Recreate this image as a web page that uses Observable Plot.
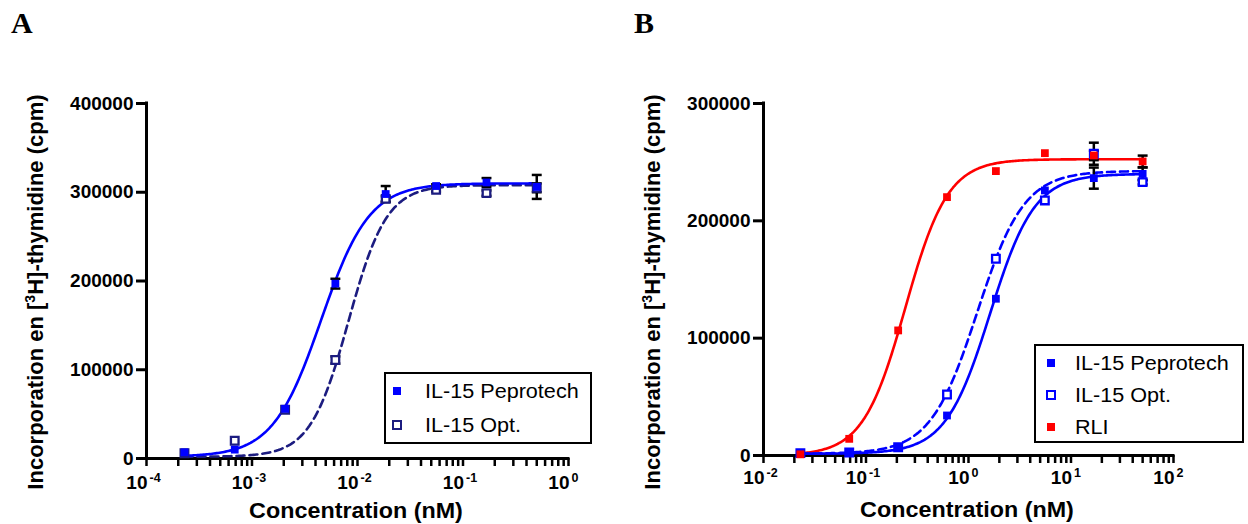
<!DOCTYPE html>
<html><head><meta charset="utf-8">
<script src="https://cdn.jsdelivr.net/npm/d3@7"></script>
<script src="https://cdn.jsdelivr.net/npm/@observablehq/plot@0.6"></script>
<style>
html,body{margin:0;padding:0;background:#fff;}
#root{position:relative;width:1248px;height:524px;overflow:hidden;font-family:"Liberation Sans",Arial,sans-serif;color:#000;}
.panel{position:absolute;top:0;}
.plabel{position:absolute;font-family:"Liberation Serif","Times New Roman",serif;font-weight:bold;font-size:30px;line-height:1;}
.ytitle{position:absolute;font-weight:bold;font-size:22px;line-height:1;white-space:nowrap;transform:translate(-50%,-50%) rotate(-90deg);}
.xtitle{position:absolute;font-weight:bold;font-size:22px;line-height:1;white-space:nowrap;transform:translate(-50%,-50%) scaleX(1.06);}
.ytitle sup{font-size:14px;vertical-align:0;position:relative;top:-8px;}
.legend{position:absolute;border:2px solid #000;background:#fff;box-sizing:border-box;}
.row{position:absolute;left:0;height:20px;font-size:20px;line-height:20px;white-space:nowrap;}
.mk{position:absolute;box-sizing:border-box;}
.lt{position:absolute;top:0;transform:scaleX(1.08);transform-origin:0 50%;}
</style>
</head><body>
<div id="root"></div>
<script>
// ---------- Data ----------
// Panel A
const concA = [0.000229, 0.000686, 0.00206, 0.00617, 0.0185, 0.0556, 0.167, 0.5];
const pepA = [7000, 10000, 56000, 197000, 298000, 307000, 311000, 306000];
const pepAErr = [0, 0, 0, 5500, 9000, 2000, 5000, 13500];
const optA = [6000, 20000, 55000, 111000, 292500, 302700, 299000, 305000];
const optAErr = [0, 0, 0, 4000, 3000, 2000, 3000, 5000];
const yTicksA = [0, 100000, 200000, 300000, 400000];
const xExpA = [-4, -3, -2, -1, 0];
// Panel B
const concB = [0.0229, 0.0686, 0.206, 0.617, 1.85, 5.56, 16.7, 50];
const pepB = [2000, 2800, 6500, 34100, 133600, 225900, 236400, 240000];
const pepBErr = [0, 0, 0, 0, 0, 0, 9000, 5500];
const optB = [2000, 2500, 7000, 52000, 167700, 217400, 257200, 233000];
const optBErr = [0, 0, 0, 0, 0, 0, 9400, 2000];
const rliB = [1000, 14200, 106600, 220200, 242400, 257700, 255700, 250600];
const rliBErr = [0, 0, 0, 0, 0, 0, 4000, 5000];
const yTicksB = [0, 100000, 200000, 300000];
const xExpB = [-2, -1, 0, 1, 2];
// Fitted dose-response curves (bottom, top, logEC50, Hill slope), read from the drawn fits
const fitPepA = [2000, 310000, -2.345, 1.9];
const fitOptA = [2000, 308000, -2.085, 2.4];
const fitPepB = [1500, 240000, 0.21, 2.0];
const fitOptB = [1500, 242500, 0.085, 1.9];
const fitRliB = [0, 252500, -0.615, 2.1];
const seriesNames = ["IL-15 Peprotech", "IL-15 Opt.", "RLI"];

// ---------- Helpers ----------
const BLUE = "#0000ff", NAVY = "#1c1c80", RED = "#ff0000";
function rows(conc, vals, errs) {
  return conc.map((c, i) => ({x: c, y: vals[i], e: errs[i]}));
}
function curve(fit, conc) {
  const [b, t, l, h] = fit;
  const lo = Math.log10(d3.min(conc)), hi = Math.log10(d3.max(conc));
  return d3.range(0, 241).map(i => {
    const lx = lo + (hi - lo) * i / 240;
    return {x: Math.pow(10, lx), y: b + (t - b) / (1 + Math.pow(10, (l - lx) * h))};
  });
}
function minorTicks(exps) {
  const out = [];
  for (let k = 0; k < exps.length - 1; k++) for (let m = 2; m <= 9; m++) out.push(m * Math.pow(10, exps[k]));
  return out;
}
const capSymbol = {draw(ctx, size) { const w = Math.sqrt(size) / 2; ctx.moveTo(-w, 0); ctx.lineTo(w, 0); }};
function errMarks(data) {
  const d = data.filter(r => r.e > 0);
  return [
    Plot.ruleX(d, {x: "x", y1: r => r.y - r.e, y2: r => r.y + r.e, stroke: "#000", strokeWidth: 2.5}),
    Plot.dot(d, {x: "x", y: r => r.y + r.e, symbol: capSymbol, r: 5.6, stroke: "#000", strokeWidth: 2.5, fill: "none"}),
    Plot.dot(d, {x: "x", y: r => r.y - r.e, symbol: capSymbol, r: 5.6, stroke: "#000", strokeWidth: 2.5, fill: "none"})
  ];
}
function axisMarks(xDomain, yTicks, exps, dy10, dyExp) {
  const majors = exps.map(e => Math.pow(10, e));
  return [
    Plot.axisY({ticks: yTicks, tickSize: 10, tickPadding: 3, tickFormat: d => String(d), fontSize: 19, fontWeight: "bold", strokeWidth: 3, label: null}),
    Plot.axisX({ticks: majors.concat(minorTicks(exps)), tickSize: 8, tickFormat: () => "", strokeWidth: 2.5, label: null}),
    Plot.ruleY([0], {strokeWidth: 3, strokeLinecap: "square"}),
    Plot.ruleX([xDomain[0]], {strokeWidth: 3, strokeLinecap: "square"}),
    Plot.text(exps, {x: e => Math.pow(10, e), frameAnchor: "bottom", dy: dy10, dx: 1, text: () => "10", textAnchor: "end", lineAnchor: "middle", fontSize: 19, fontWeight: "bold"}),
    Plot.text(exps, {x: e => Math.pow(10, e), frameAnchor: "bottom", dy: dyExp, dx: 3, text: e => String(e), textAnchor: "start", lineAnchor: "middle", fontSize: 12.5, fontWeight: "bold"})
  ];
}

// ---------- Panel A ----------
const dPepA = rows(concA, pepA, pepAErr), dOptA = rows(concA, optA, optAErr);
const chartA = Plot.plot({
  width: 620, height: 524,
  marginLeft: 146, marginRight: 52, marginTop: 103, marginBottom: 66,
  x: {type: "log", domain: [1e-4, 1], axis: null},
  y: {domain: [0, 400000], axis: null},
  style: {background: "transparent", fontFamily: "'Liberation Sans', Arial, sans-serif", fontWeight: "bold", overflow: "visible", color: "#000"},
  marks: [
    ...axisMarks([1e-4, 1], yTicksA, xExpA, 24.5, 19.5),
    Plot.line(curve(fitOptA, concA), {x: "x", y: "y", stroke: NAVY, strokeWidth: 2.6, strokeDasharray: "8,5"}),
    Plot.line(curve(fitPepA, concA), {x: "x", y: "y", stroke: BLUE, strokeWidth: 2.6}),
    ...errMarks(dPepA), ...errMarks(dOptA),
    Plot.dot(dOptA, {x: "x", y: "y", symbol: "square", r: 4.3, fill: "#fff", stroke: NAVY, strokeWidth: 2.3}),
    Plot.dot(dPepA, {x: "x", y: "y", symbol: "square", r: 4.4, fill: BLUE, stroke: "none"})
  ]
});

// ---------- Panel B ----------
const dPepB = rows(concB, pepB, pepBErr), dOptB = rows(concB, optB, optBErr), dRliB = rows(concB, rliB, rliBErr);
const chartB = Plot.plot({
  width: 628, height: 524,
  marginLeft: 143, marginRight: 75, marginTop: 103, marginBottom: 69,
  x: {type: "log", domain: [1e-2, 100], axis: null},
  y: {domain: [0, 300000], axis: null},
  style: {background: "transparent", fontFamily: "'Liberation Sans', Arial, sans-serif", fontWeight: "bold", overflow: "visible", color: "#000"},
  marks: [
    ...axisMarks([1e-2, 100], yTicksB, xExpB, 22.5, 17.5),
    Plot.line(curve(fitRliB, concB), {x: "x", y: "y", stroke: RED, strokeWidth: 2.6}),
    Plot.line(curve(fitOptB, concB), {x: "x", y: "y", stroke: BLUE, strokeWidth: 2.6, strokeDasharray: "8,5"}),
    Plot.line(curve(fitPepB, concB), {x: "x", y: "y", stroke: BLUE, strokeWidth: 2.6}),
    ...errMarks(dPepB), ...errMarks(dOptB), ...errMarks(dRliB),
    Plot.dot(dOptB, {x: "x", y: "y", symbol: "square", r: 4.3, fill: "#fff", stroke: BLUE, strokeWidth: 2.3}),
    Plot.dot(dPepB, {x: "x", y: "y", symbol: "square", r: 4.4, fill: BLUE, stroke: "none"}),
    Plot.dot(dRliB, {x: "x", y: "y", symbol: "square", r: 4.4, fill: RED, stroke: "none"})
  ]
});

// ---------- Layout ----------
const root = document.getElementById("root");
function place(el, left) { const d = document.createElement("div"); d.className = "panel"; d.style.left = left + "px"; d.appendChild(el); root.appendChild(d); }
place(chartA, 0);
place(chartB, 620);

function addDiv(cls, html, css) { const d = document.createElement("div"); d.className = cls; d.innerHTML = html; Object.assign(d.style, css); root.appendChild(d); return d; }
addDiv("plabel", "A", {left: "11px", top: "8px"});
addDiv("plabel", "B", {left: "634px", top: "8px"});
const yTitle = "Incorporation en [<sup>3</sup>H]-thymidine (cpm)";
addDiv("ytitle", yTitle, {left: "36px", top: "292px"});
addDiv("ytitle", yTitle, {left: "653px", top: "292px"});
addDiv("xtitle", "Concentration (nM)", {left: "356px", top: "511px"});
addDiv("xtitle", "Concentration (nM)", {left: "967px", top: "510px"});

function legend(box, items) {
  const lg = addDiv("legend", "", {left: box[0] + "px", top: box[1] + "px", width: box[2] + "px", height: box[3] + "px"});
  items.forEach(it => {
    const r = document.createElement("div"); r.className = "row";
    r.style.top = (it.cy - 10 - 2) + "px"; r.style.width = "100%";
    const m = document.createElement("div"); m.className = "mk";
    const s = it.open ? 10 : 8;
    Object.assign(m.style, {left: (it.mx - s / 2 - 2) + "px", top: (10 - s / 2) + "px", width: s + "px", height: s + "px",
      background: it.open ? "#fff" : it.color, border: it.open ? ("2.3px solid " + it.color) : "none"});
    const t = document.createElement("div"); t.className = "lt"; t.style.left = (it.tx - 2) + "px"; t.textContent = it.name;
    r.appendChild(m); r.appendChild(t); lg.appendChild(r);
  });
}
legend([384, 372, 208, 72], [
  {name: seriesNames[0], color: BLUE, open: false, cy: 18.7, mx: 13, tx: 41},
  {name: seriesNames[1], color: NAVY, open: true, cy: 53, mx: 13, tx: 41}
]);
legend([1034, 344, 210, 99], [
  {name: seriesNames[0], color: BLUE, open: false, cy: 19.3, mx: 17, tx: 41},
  {name: seriesNames[1], color: BLUE, open: true, cy: 51, mx: 17, tx: 41},
  {name: seriesNames[2], color: RED, open: false, cy: 82.7, mx: 17, tx: 41}
]);
</script>
</body></html>
